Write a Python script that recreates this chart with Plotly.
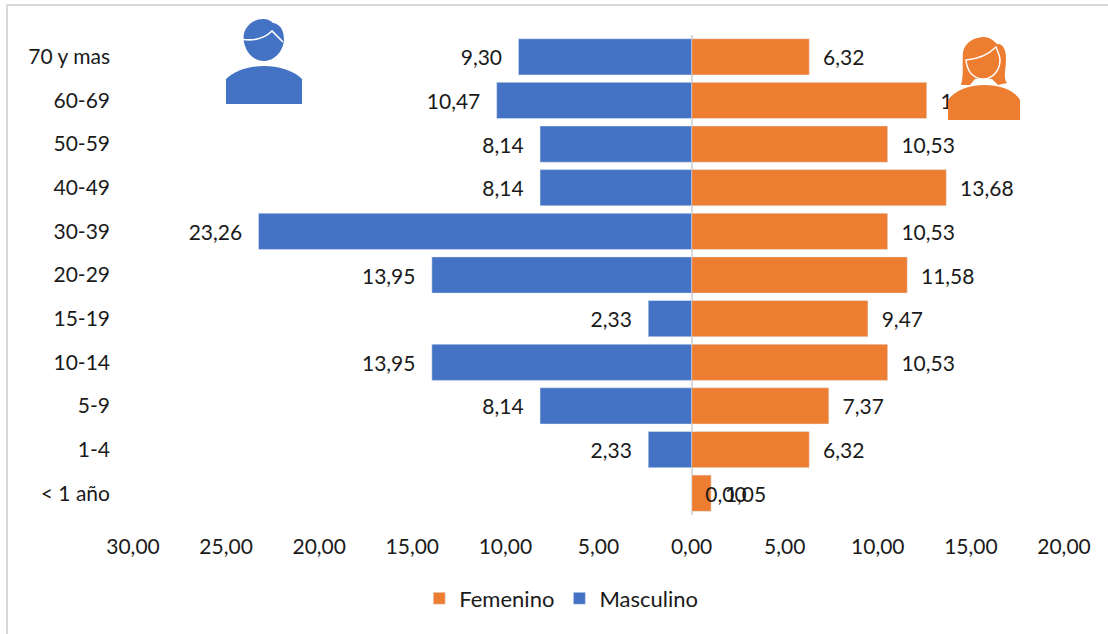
import plotly.graph_objects as go

categories = ["< 1 año", "1-4", "5-9", "10-14", "15-19", "20-29", "30-39", "40-49", "50-59", "60-69", "70 y mas"]
masculino = [0.00, 2.33, 8.14, 13.95, 2.33, 13.95, 23.26, 8.14, 8.14, 10.47, 9.30]
femenino = [1.05, 6.32, 7.37, 10.53, 9.47, 11.58, 10.53, 13.68, 10.53, 12.63, 6.32]
tick_vals = [-30, -25, -20, -15, -10, -5, 0, 5, 10, 15, 20]
BLUE, ORANGE = "#4472C4", "#ED7D31"
FONT = "Lato"
W, H = 1108, 634
L, R, T, B = 133, 1064, 35, 515
PAD = "\u00a0\u00a0"
PAD_M = "\u00a0\u00a0\u2009"


def fmt(v):
    return f"{abs(v):.2f}".replace(".", ",")


fig = go.Figure()
fig.add_bar(y=categories, x=femenino, name="Femenino", orientation="h", marker_color=ORANGE,
            text=[PAD + fmt(v) for v in femenino], textposition="outside", cliponaxis=False,
            constraintext="none", textangle=0, outsidetextfont=dict(size=21, color="#1a1a1a"))
fig.add_bar(y=categories, x=[-v for v in masculino], name="Masculino", orientation="h", marker_color=BLUE,
            text=[fmt(v) + PAD_M if v else PAD + fmt(v) for v in masculino], textposition="outside", cliponaxis=False,
            constraintext="none", textangle=0, outsidetextfont=dict(size=21, color="#1a1a1a"))


def px_x(x):
    return (x - L) / (R - L)


def px_y(y):
    return 1 - (y - T) / (B - T)


def path(*parts):
    s = ""
    for p in parts:
        s += p if isinstance(p, str) else f"{px_x(p[0]):.5f},{px_y(p[1]):.5f} "
    return s


def shape(d, fill=None, line=None, width=0):
    return dict(type="path", xref="paper", yref="paper", path=d, fillcolor=fill,
                line=dict(color=line if line else "rgba(0,0,0,0)", width=width), layer="above")


shapes = [
    # man
    shape(path("M", (243.5, 39), "C", (243, 28), (252, 19), (263, 19), "C", (268, 19), (271, 21), (273, 23),
               "C", (280, 24), (284, 30), (284, 40), "C", (283, 52), (274, 61), (264, 61),
               "C", (253, 61), (245, 52), (243.5, 39), "Z"), BLUE),
    shape(path("M", (243, 39.5), "C", (255, 41), (265, 38), (272, 31), "L", (283, 42)), None, "white", 1.6),
    shape(path("M", (226, 104), "L", (226, 79), "C", (235, 70), (250, 66), (264, 66),
               "C", (278, 66), (293, 70), (302, 79), "L", (302, 104), "Z"), BLUE),
    # woman
    shape(path("M", (961, 85), "C", (964, 75), (962, 62), (963, 52), "C", (965, 42), (975, 37), (984, 37),
               "C", (990, 37), (994, 41), (997, 44), "C", (1003, 43), (1006, 50), (1006, 58),
               "C", (1006, 70), (1003, 78), (1007, 83), "L", (998, 85), "L", (992, 79), "L", (975, 79),
               "L", (970, 85), "Z"), ORANGE),
    shape(path("M", (966, 60), "C", (978, 59), (989, 54), (996, 47), "C", (998, 52), (1000, 56), (1000, 60),
               "C", (1000, 70), (993, 79), (983, 79), "C", (973, 79), (967, 71), (966, 60), "Z"),
          None, "white", 1.5),
    shape(path("M", (948, 120), "L", (948, 100), "C", (955, 90), (970, 85), (984, 85),
               "C", (1000, 85), (1014, 90), (1020, 100), "L", (1020, 120), "Z"), ORANGE),
    # chart frame
    dict(type="line", xref="paper", yref="paper", x0=px_x(7), x1=px_x(7), y0=px_y(5), y1=px_y(634),
         line=dict(color="#D9D9D9", width=2), layer="below"),
    dict(type="line", xref="paper", yref="paper", x0=px_x(6), x1=px_x(1108), y0=px_y(5), y1=px_y(5),
         line=dict(color="#D9D9D9", width=2), layer="below"),
]

fig.update_layout(
    width=W, height=H,
    margin=dict(l=L, r=W - R, t=T, b=H - B, autoexpand=False),
    paper_bgcolor="white", plot_bgcolor="white",
    barmode="overlay", bargap=0.17,
    font=dict(family=FONT, size=21, color="#1a1a1a"),
    shapes=shapes,
    legend=dict(orientation="h", x=0.46, xanchor="center", y=-0.174, yanchor="middle",
                traceorder="normal", font=dict(size=22)),
    xaxis=dict(range=[-30, 20], tickvals=tick_vals, ticktext=[fmt(v) for v in tick_vals],
               showgrid=False, showline=False, zeroline=True, zerolinecolor="#D9D9D9", zerolinewidth=2,
               ticks="", ticklabelstandoff=17),
    yaxis=dict(type="category", categoryorder="array", categoryarray=categories, showgrid=False,
               showline=False, ticks="", ticklabelstandoff=22),
)
fig.write_html("out.html", post_script="document.body.style.margin='0';",
               config=dict(displayModeBar=False))
